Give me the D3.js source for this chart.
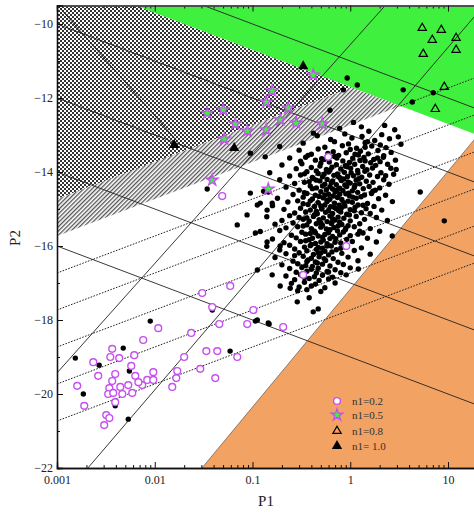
<!DOCTYPE html>
<html>
<head>
<meta charset="utf-8">
<script src="https://cdn.jsdelivr.net/npm/d3@7"></script>
<style>
  body { margin: 0; background: #fff; }
  text { font-family: "Liberation Serif", "DejaVu Serif", serif; }
</style>
</head>
<body>
<div id="chart"></div>
<script>
// ---- axis ticks ----
const xMajor = [0.001, 0.01, 0.1, 1, 10];
const xLabels = ['0.001', '0.01', '0.1', '1', '10'];
const yMajor = [-22, -20, -18, -16, -14, -12, -10];
const yMinor = [-21, -19, -17, -15, -13, -11];

// ---- region boundaries (P2 vs log10 P1) ----
const greenCut = -11.7;              // P2 = greenCut - log10(P1)
const checkerCut = -11.73;           // P2 = checkerCut + log10(P1)
const hatchCut = -12.73;             // P2 = hatchCut + log10(P1)
const orangeEdge = [[0.0304, -22], [30, -12.46]];

// ---- solid lines, P2 = c - log10(P1) ----
const downLines = [-11, -13, -15, -17, -19];
// ---- dotted lines, P2 = d + log10(P1), drawn from P1 = start ----
const dottedLines = [[-12.73, 3.27], [-13.73, 0.001], [-14.73, 0.001], [-15.73, 0.001], [-16.73, 0.001], [-17.73, 0.001]];
// ---- steep solid segments [P1, P2] -> [P1, P2] ----
const steepLines = [
  [[0.001, -19.43], [2.28, -9.5]],
  [[0.00207, -22], [23.3, -9.5]],
  [[0.00102, -9.5], [0.0182, -13.26]]
];

// ---- black dots, main cluster [P1, P2] ----
const clusterDots = [
  [0.62,-12.33],[1.08,-12.66],[2.25,-12.74],[0.78,-12.82],[1.55,-12.9],[2.85,-12.86],[0.42,-12.95],[1.3,-12.78],
  [0.46,-13.02],[0.88,-12.97],[1.32,-13.04],[2.1,-12.99],[0.63,-13.12],[1.04,-13.08],[1.78,-13.15],[2.52,-13.1],[3.1,-13.05],
  [0.33,-13.22],[0.69,-13.18],[0.96,-13.24],[1.42,-13.21],[2.03,-13.27],[0.19,-13.31],[0.55,-13.33],[0.83,-13.29],[1.16,-13.36],[1.66,-13.3],[2.32,-13.34],[3.3,-13.25],
  [0.3,-13.41],[0.47,-13.38],[0.67,-13.45],[1.0,-13.39],[1.27,-13.44],[1.92,-13.42],[0.095,-13.49],[0.4,-13.52],[0.59,-13.5],[0.76,-13.55],[0.91,-13.48],[1.21,-13.54],[1.53,-13.51],[2.62,-13.47],[2.2,-13.56],
  [0.135,-13.59],[0.24,-13.62],[0.35,-13.6],[0.51,-13.64],[0.69,-13.58],[1.06,-13.63],[1.38,-13.61],[1.74,-13.66],[2.18,-13.6],[0.31,-13.71],[0.44,-13.68],[0.61,-13.73],[0.84,-13.7],[0.98,-13.74],[1.26,-13.69],[1.62,-13.75],[2.02,-13.72],[2.9,-13.68],[0.54,-13.66],
  [0.2,-13.81],[0.32,-13.78],[0.49,-13.84],[0.72,-13.8],[0.89,-13.83],[1.11,-13.79],[1.34,-13.85],[1.82,-13.82],[2.41,-13.79],[0.28,-13.91],[0.4,-13.88],[0.57,-13.93],[0.65,-13.87],[0.8,-13.92],[1.01,-13.9],[1.48,-13.94],[1.69,-13.89],[2.95,-13.93],[1.19,-13.96],[0.45,-13.97],
  [0.15,-14.02],[0.36,-13.99],[0.47,-14.04],[0.6,-14.0],[0.74,-14.05],[0.87,-14.01],[1.2,-14.03],[1.41,-13.98],[2.06,-14.02],[2.78,-14.06],[0.24,-14.11],[0.31,-14.08],[0.52,-14.13],[0.68,-14.09],[0.94,-14.12],[1.08,-14.1],[1.31,-14.14],[1.58,-14.08],[1.9,-14.12],[0.41,-14.15],[0.79,-14.16],
  [0.19,-14.21],[0.42,-14.18],[0.49,-14.24],[0.58,-14.2],[0.81,-14.23],[0.86,-14.19],[1.15,-14.22],[1.46,-14.25],[2.2,-14.21],[0.27,-14.31],[0.34,-14.28],[0.55,-14.33],[0.64,-14.29],[0.72,-14.34],[1.0,-14.3],[1.25,-14.32],[1.71,-14.28],[2.49,-14.33],[0.38,-14.26],[0.95,-14.27],
  [0.22,-14.41],[0.39,-14.38],[0.45,-14.43],[0.62,-14.4],[0.78,-14.44],[0.92,-14.39],[1.1,-14.42],[1.36,-14.45],[1.56,-14.39],[2.0,-14.43],[0.13,-14.52],[0.3,-14.49],[0.5,-14.53],[0.57,-14.48],[0.7,-14.54],[0.84,-14.5],[1.05,-14.51],[1.19,-14.55],[1.8,-14.49],[0.66,-14.46],[0.34,-14.56],
  [0.26,-14.61],[0.36,-14.58],[0.44,-14.63],[0.6,-14.6],[0.67,-14.65],[0.9,-14.59],[0.98,-14.64],[1.4,-14.62],[1.65,-14.58],[2.3,-14.63],[0.18,-14.71],[0.33,-14.68],[0.41,-14.73],[0.53,-14.7],[0.74,-14.69],[0.82,-14.74],[1.15,-14.71],[1.29,-14.67],[1.95,-14.72],[0.48,-14.66],[0.58,-14.76],
  [0.23,-14.81],[0.29,-14.78],[0.47,-14.83],[0.58,-14.8],[0.69,-14.84],[0.95,-14.79],[1.05,-14.82],[1.5,-14.85],[2.7,-14.8],[0.16,-14.91],[0.37,-14.88],[0.43,-14.93],[0.55,-14.89],[0.63,-14.94],[0.77,-14.9],[0.88,-14.92],[1.2,-14.89],[1.75,-14.93],[0.33,-14.86],[0.81,-14.97],
  [0.21,-15.01],[0.31,-14.98],[0.39,-15.03],[0.51,-15.0],[0.6,-15.04],[0.72,-14.99],[1.0,-15.02],[1.1,-15.05],[1.45,-14.99],[2.1,-15.03],[0.27,-15.11],[0.35,-15.08],[0.46,-15.13],[0.56,-15.09],[0.66,-15.12],[0.8,-15.08],[0.92,-15.14],[1.3,-15.1],[1.6,-15.12],[0.43,-15.16],
  [0.14,-15.21],[0.24,-15.18],[0.3,-15.23],[0.42,-15.2],[0.53,-15.24],[0.62,-15.19],[0.75,-15.22],[0.86,-15.25],[1.15,-15.2],[1.85,-15.23],[0.2,-15.31],[0.33,-15.28],[0.38,-15.33],[0.48,-15.29],[0.58,-15.34],[0.7,-15.3],[1.0,-15.32],[1.4,-15.28],[2.4,-15.31],[0.65,-15.36],
  [0.17,-15.41],[0.26,-15.38],[0.36,-15.43],[0.45,-15.4],[0.52,-15.44],[0.64,-15.39],[0.82,-15.42],[0.95,-15.45],[1.25,-15.4],[0.22,-15.51],[0.29,-15.48],[0.4,-15.53],[0.5,-15.49],[0.57,-15.54],[0.68,-15.5],[0.9,-15.52],[1.1,-15.48],[1.6,-15.53],[0.75,-15.46],
  [0.12,-15.61],[0.19,-15.58],[0.32,-15.63],[0.43,-15.6],[0.6,-15.64],[0.74,-15.59],[0.85,-15.62],[1.35,-15.65],[2.0,-15.6],[0.25,-15.71],[0.35,-15.68],[0.47,-15.73],[0.55,-15.69],[0.66,-15.74],[0.78,-15.7],[1.0,-15.72],[1.2,-15.68],[0.39,-15.66],
  [0.16,-15.81],[0.28,-15.78],[0.38,-15.83],[0.41,-15.79],[0.53,-15.84],[0.62,-15.8],[0.92,-15.82],[1.5,-15.79],[0.21,-15.91],[0.31,-15.88],[0.44,-15.93],[0.5,-15.89],[0.58,-15.94],[0.7,-15.9],[0.8,-15.92],[1.05,-15.88],[0.35,-15.86],
  [0.14,-16.01],[0.24,-15.98],[0.34,-16.03],[0.39,-15.99],[0.47,-16.04],[0.64,-16.0],[0.88,-16.02],[1.3,-16.05],[0.19,-16.11],[0.27,-16.08],[0.36,-16.13],[0.45,-16.09],[0.55,-16.14],[0.72,-16.1],[1.1,-16.12],[0.52,-16.06],
  [0.22,-16.21],[0.3,-16.18],[0.42,-16.23],[0.5,-16.19],[0.6,-16.24],[0.82,-16.2],[1.6,-16.22],[0.17,-16.31],[0.33,-16.28],[0.4,-16.33],[0.48,-16.29],[0.67,-16.34],[0.95,-16.3],[0.27,-16.26],
  [0.26,-16.41],[0.37,-16.38],[0.44,-16.43],[0.56,-16.39],[0.75,-16.44],[1.2,-16.4],[0.2,-16.51],[0.29,-16.48],[0.35,-16.53],[0.52,-16.49],[0.62,-16.54],[0.85,-16.5],[0.46,-16.46],
  [0.24,-16.61],[0.32,-16.58],[0.4,-16.63],[0.47,-16.6],[0.7,-16.64],[1.0,-16.59],[0.28,-16.71],[0.36,-16.68],[0.45,-16.73],[0.58,-16.69],[0.8,-16.72],
  [0.22,-16.81],[0.31,-16.78],[0.43,-16.83],[0.52,-16.79],[0.66,-16.84],[0.27,-16.91],[0.38,-16.88],[0.48,-16.93],[0.6,-16.89],
  [0.25,-17.01],[0.34,-16.98],[0.44,-17.03],[0.7,-17.0],[0.3,-17.11],[0.4,-17.08],[0.55,-17.13],[0.29,-17.21],[0.36,-17.18],[0.5,-17.23],[0.38,-17.4],
  // denser core
  [0.37,-13.55],[0.73,-13.62],[1.12,-13.52],[0.5,-13.76],[0.93,-13.86],[1.42,-13.7],[0.62,-13.95],[0.34,-14.05],[0.54,-14.06],[1.02,-14.02],
  [0.76,-14.13],[1.22,-14.18],[0.45,-14.22],[0.66,-14.24],[0.88,-14.35],[0.52,-14.38],[1.12,-14.36],[0.41,-14.45],[0.74,-14.48],[0.96,-14.57],
  [0.55,-14.62],[0.78,-14.6],[1.06,-14.68],[0.39,-14.78],[0.62,-14.73],[0.86,-14.83],[0.5,-14.92],[0.69,-14.96],[1.12,-14.95],[0.45,-15.06],
  [0.76,-15.04],[0.98,-15.16],[0.36,-15.24],[0.66,-15.26],[0.5,-15.37],[0.78,-15.36],[0.33,-15.46],[0.62,-15.56],[0.44,-15.64],[0.89,-15.56],
  [0.52,-15.76],[0.71,-15.8],[0.4,-15.96],[0.58,-16.0],[0.8,-16.06],[0.47,-16.18],[0.65,-16.16],[0.36,-16.42],[0.54,-16.34],[0.41,-16.55],
  [0.6,-16.7],[0.34,-16.85],[1.5,-13.18],[1.9,-13.62],[2.3,-14.1],[1.7,-14.52],[1.35,-14.9],[1.25,-15.6],[2.6,-13.9],[1.42,-13.33]
];
// ---- black dots outside the cluster [P1, P2] ----
const strayDots = [
  [0.93, -11.46], [1.18, -11.65], [3.48, -11.78], [4.31, -12.11], [7.06, -11.86], [0.85, -11.78],
  [0.00154, -19.03], [0.0027, -19.22], [0.00476, -18.76], [0.009, -18.03], [0.00186, -20.0],
  [0.00394, -20.32], [0.0055, -19.38], [0.00536, -20.68], [0.0388, -17.73], [0.059, -18.84],
  [0.112, -18.0], [0.148, -18.11], [0.0344, -14.46], [0.0698, -15.43], [0.107, -15.65],
  [0.088, -15.16], [0.112, -14.89], [0.141, -15.03], [0.159, -14.84], [0.12, -14.84],
  [0.095, -14.57], [0.145, -14.54], [0.141, -15.89], [0.192, -16.0], [0.112, -16.65],
  [0.159, -16.78], [0.192, -17.08], [0.243, -17.14], [0.287, -17.51], [0.418, -17.78],
  [0.47, -17.7], [0.145, -18.08], [0.107, -18.03], [9.16, -15.32], [2.69, -15.73],
  [1.85, -15.89], [1.21, -16.62], [0.91, -16.78], [5.2, -14.54]
];

// ---- n1 = 0.2 (open circles) ----
const n02 = [
  [0.00161, -19.78], [0.0019, -20.32], [0.00235, -19.14], [0.00264, -19.51], [0.00304, -20.84],
  [0.00319, -20.57], [0.00343, -20.65], [0.00351, -19.0], [0.00367, -18.78], [0.00433, -19.03],
  [0.00394, -19.46], [0.00367, -19.65], [0.00343, -19.84], [0.00334, -20.0], [0.00376, -19.97],
  [0.00394, -20.22], [0.00444, -19.81], [0.00466, -20.0], [0.00536, -19.76], [0.00589, -19.97],
  [0.00575, -19.24], [0.00617, -18.95], [0.00632, -19.51], [0.00745, -19.76], [0.00762, -18.54],
  [0.00838, -19.62], [0.00966, -19.41], [0.00966, -19.62], [0.01086, -18.22], [0.0151, -19.81],
  [0.0166, -19.57], [0.017, -19.38], [0.02, -19.0], [0.0236, -18.35], [0.0292, -19.32],
  [0.0306, -17.27], [0.0337, -18.84], [0.0387, -17.65], [0.0416, -19.57], [0.0436, -18.84],
  [0.0457, -18.11], [0.0592, -17.08], [0.0698, -19.0], [0.0883, -18.11], [0.102, -17.73],
  [0.206, -18.19], [0.33, -16.78], [0.049, -14.65], [0.596, -13.59], [0.91, -16.0], [0.0068, -19.68]
];
// ---- n1 = 0.5 (stars) ----
const n05 = [
  [0.0344, -12.41], [0.0502, -12.32], [0.0666, -12.7], [0.0883, -12.89], [0.0514, -13.11],
  [0.138, -12.86], [0.159, -11.81], [0.138, -12.11], [0.232, -12.27], [0.192, -12.59],
  [0.28, -12.68], [0.517, -12.7], [0.418, -11.38], [0.0387, -14.22], [0.145, -14.46]
];
// ---- n1 = 0.8 (open triangles) ----
const n08 = [
  [5.45, -10.11], [8.53, -10.16], [6.9, -10.43], [12.1, -10.38], [12.1, -10.7],
  [5.58, -10.81], [9.16, -11.7], [7.41, -12.3]
];
// ---- n1 = 1.0 (filled triangles) ----
const n10 = [[0.0158, -13.27], [0.065, -13.35], [0.33, -11.14]];

const legendLabels = ['n1=0.2', 'n1=0.5', 'n1=0.8', 'n1= 1.0'];

// ---- layout ----
const svgWidth = 474, svgHeight = 513;
const plotLeft = 57, plotTop = 5.5, plotBottom = 468;
const decade = 97.75;
const xMax = 30;

const magenta = '#c64ff0', green = '#3ff03f', orange = '#f2a262';

const svg = d3.select('#chart').append('svg')
  .attr('width', svgWidth)
  .attr('height', svgHeight);

const xScale = d3.scaleLog().domain([0.001, xMax])
  .range([plotLeft, plotLeft + decade * Math.log10(xMax / 0.001)]);
const yScale = d3.scaleLinear().domain([-22, -9.5]).range([plotBottom, plotTop]);

const defs = svg.append('defs');
defs.append('clipPath').attr('id', 'plotClip')
  .append('rect')
  .attr('x', plotLeft).attr('y', plotTop)
  .attr('width', svgWidth - plotLeft).attr('height', plotBottom - plotTop);

const checker = defs.append('pattern').attr('id', 'checker')
  .attr('width', 4).attr('height', 4).attr('patternUnits', 'userSpaceOnUse');
checker.append('rect').attr('width', 4).attr('height', 4).attr('fill', '#fff');
checker.append('rect').attr('width', 2).attr('height', 2).attr('fill', '#333');
checker.append('rect').attr('x', 2).attr('y', 2).attr('width', 2).attr('height', 2).attr('fill', '#333');

const hatch = defs.append('pattern').attr('id', 'hatch')
  .attr('width', 3).attr('height', 3).attr('patternUnits', 'userSpaceOnUse')
  .attr('patternTransform', 'rotate(45)');
hatch.append('rect').attr('width', 3).attr('height', 3).attr('fill', '#fff');
hatch.append('line').attr('x1', 0.7).attr('y1', 0).attr('x2', 0.7).attr('y2', 3)
  .attr('stroke', '#333').attr('stroke-width', 1.1);

const plot = svg.append('g').attr('clip-path', 'url(#plotClip)');
const lx = Math.log10;
const pt = d => [xScale(d[0]), yScale(d[1])];
const poly = pts => 'M' + pts.map(p => pt(p).join(',')).join('L') + 'Z';

// orange region (below orange edge)
plot.append('path')
  .attr('d', poly([orangeEdge[0], [xMax, -22], orangeEdge[1]]))
  .attr('fill', orange);

// green region (above green cut)
const uTop = greenCut + 9.5;   // log10 P1 where the green cut meets the top
plot.append('path')
  .attr('d', poly([[Math.pow(10, uTop), -9.5], [xMax, -9.5], [xMax, greenCut - lx(xMax)]]))
  .attr('fill', green);

// checker and hatch regions
const meetChecker = (greenCut - checkerCut) / 2;
const meetHatch = (greenCut - hatchCut) / 2;
plot.append('path')
  .attr('d', poly([[0.001, -9.5], [Math.pow(10, uTop), -9.5],
    [Math.pow(10, meetChecker), greenCut - meetChecker], [0.001, checkerCut - 3]]))
  .attr('fill', 'url(#checker)');
plot.append('path')
  .attr('d', poly([[0.001, checkerCut - 3], [Math.pow(10, meetChecker), greenCut - meetChecker],
    [Math.pow(10, meetHatch), greenCut - meetHatch], [0.001, hatchCut - 3]]))
  .attr('fill', 'url(#hatch)');

// solid lines of slope -1
const lineGen = d3.line().x(d => xScale(d[0])).y(d => yScale(d[1]));
plot.selectAll('path.down').data(downLines).enter().append('path')
  .attr('class', 'down')
  .attr('d', c => lineGen([[0.001, c + 3], [xMax, c - lx(xMax)]]))
  .attr('fill', 'none').attr('stroke', '#222').attr('stroke-width', 0.9);

// dotted lines of slope +1
plot.selectAll('path.dotted').data(dottedLines).enter().append('path')
  .attr('class', 'dotted')
  .attr('d', d => lineGen([[d[1], d[0] + lx(d[1])], [xMax, d[0] + lx(xMax)]]))
  .attr('fill', 'none').attr('stroke', '#222').attr('stroke-width', 1)
  .attr('stroke-dasharray', '1.6,1.4');

// steep solid lines
plot.selectAll('path.steep').data(steepLines).enter().append('path')
  .attr('class', 'steep')
  .attr('d', d => lineGen(d))
  .attr('fill', 'none').attr('stroke', '#222').attr('stroke-width', 0.9);

// orange border
plot.append('path').attr('d', lineGen(orangeEdge))
  .attr('fill', 'none').attr('stroke', '#444').attr('stroke-width', 0.6);

// black dots
const blackDots = strayDots.concat(clusterDots);
plot.selectAll('circle.dot').data(blackDots).enter().append('circle')
  .attr('class', 'dot')
  .attr('cx', d => xScale(d[0])).attr('cy', d => yScale(d[1]))
  .attr('r', 2.7).attr('fill', '#000');

// markers
const starPath = d3.symbol().type(d3.symbolStar).size(42)();
const triOpen = d3.symbol().type(d3.symbolTriangle).size(30)();
const triFull = d3.symbol().type(d3.symbolTriangle).size(46)();

plot.selectAll('circle.n02').data(n02).enter().append('circle')
  .attr('class', 'n02')
  .attr('cx', d => xScale(d[0])).attr('cy', d => yScale(d[1]))
  .attr('r', 3.4).attr('fill', '#fff').attr('stroke', magenta).attr('stroke-width', 1.4);

plot.selectAll('path.n05').data(n05).enter().append('path')
  .attr('class', 'n05')
  .attr('transform', d => `translate(${xScale(d[0])},${yScale(d[1])})`)
  .attr('d', starPath).attr('fill', green).attr('stroke', magenta).attr('stroke-width', 1.3);

plot.selectAll('path.n08').data(n08).enter().append('path')
  .attr('class', 'n08')
  .attr('transform', d => `translate(${xScale(d[0])},${yScale(d[1])})`)
  .attr('d', triOpen).attr('fill', 'none').attr('stroke', '#000').attr('stroke-width', 1.2);

plot.selectAll('path.n10').data(n10).enter().append('path')
  .attr('class', 'n10')
  .attr('transform', d => `translate(${xScale(d[0])},${yScale(d[1])})`)
  .attr('d', triFull).attr('fill', '#000');

// ---- axes ----
const xMinor = [];
[0.001, 0.01, 0.1, 1, 10].forEach(b => { for (let k = 2; k <= 9; k++) if (b * k <= xMax) xMinor.push(b * k); });

const bottomMajor = d3.axisBottom(xScale).tickValues(xMajor)
  .tickSize(-6).tickPadding(7).tickFormat((d, i) => xLabels[i]);
const bottomMinor = d3.axisBottom(xScale).tickValues(xMinor).tickSize(-3).tickFormat('');
const topMajor = d3.axisTop(xScale).tickValues(xMajor).tickSize(-6).tickFormat('');
const topMinor = d3.axisTop(xScale).tickValues(xMinor).tickSize(-3).tickFormat('');
const leftMajor = d3.axisLeft(yScale).tickValues(yMajor).tickSize(-6).tickPadding(4);
const leftMinor = d3.axisLeft(yScale).tickValues(yMinor).tickSize(-3).tickFormat('');

function styleAxis(g) {
  g.select('.domain').attr('stroke', '#111').attr('stroke-width', 1.3).attr('fill', 'none');
  g.selectAll('.tick line').attr('stroke', '#111').attr('stroke-width', 1);
  g.selectAll('.tick text').attr('font-family', '"Liberation Serif", serif')
    .attr('font-size', 12).attr('fill', '#222');
}

svg.append('g').attr('transform', `translate(0,${plotBottom})`).call(bottomMinor).call(styleAxis);
svg.append('g').attr('transform', `translate(0,${plotBottom})`).call(bottomMajor).call(styleAxis);
svg.append('g').attr('transform', `translate(0,${plotTop})`).call(topMinor).call(styleAxis);
svg.append('g').attr('transform', `translate(0,${plotTop})`).call(topMajor).call(styleAxis)
  .select('.domain').attr('stroke', '#555').attr('stroke-width', 1.5);
svg.append('g').attr('transform', `translate(${plotLeft},0)`).call(leftMinor).call(styleAxis);
svg.append('g').attr('transform', `translate(${plotLeft},0)`).call(leftMajor).call(styleAxis);

// axis titles
svg.append('text').attr('x', 266).attr('y', 506).attr('text-anchor', 'middle')
  .attr('font-size', 15).attr('fill', '#222').text('P1');
svg.append('text').attr('transform', 'translate(20,238) rotate(-90)').attr('text-anchor', 'middle')
  .attr('font-size', 15).attr('fill', '#222').text('P2');

// ---- legend ----
const legendX = 337, legendRows = [401, 415, 431, 446];
const legend = svg.append('g');
legend.append('circle').attr('cx', legendX).attr('cy', legendRows[0]).attr('r', 3.4)
  .attr('fill', '#fff').attr('stroke', magenta).attr('stroke-width', 1.4);
legend.append('path').attr('transform', `translate(${legendX},${legendRows[1]})`)
  .attr('d', starPath).attr('fill', green).attr('stroke', magenta).attr('stroke-width', 1.3);
legend.append('path').attr('transform', `translate(${legendX},${legendRows[2]})`)
  .attr('d', triOpen).attr('fill', 'none').attr('stroke', '#000').attr('stroke-width', 1.2);
legend.append('path').attr('transform', `translate(${legendX},${legendRows[3]})`)
  .attr('d', triFull).attr('fill', '#000');
legend.selectAll('text').data(legendLabels).enter().append('text')
  .attr('x', legendX + 15).attr('y', (d, i) => legendRows[i] + 4)
  .attr('font-size', 11).attr('fill', '#333').text(d => d);
</script>
</body>
</html>
